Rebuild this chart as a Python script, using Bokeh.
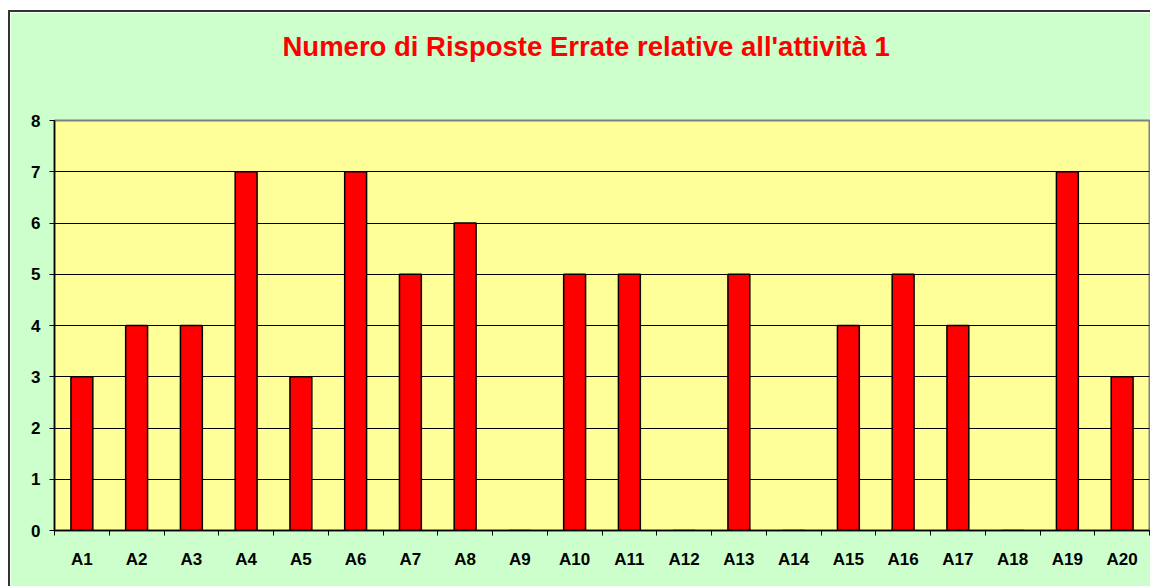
from bokeh.plotting import figure
from bokeh.models import FixedTicker, Range1d, Spacer, Title
from bokeh.layouts import column, row
from bokeh.embed import file_html
from bokeh.resources import INLINE

categories = ["A1", "A2", "A3", "A4", "A5", "A6", "A7", "A8", "A9", "A10",
              "A11", "A12", "A13", "A14", "A15", "A16", "A17", "A18", "A19", "A20"]
values = [3, 4, 4, 7, 3, 7, 5, 6, 0, 5, 5, 0, 5, 0, 4, 5, 4, 0, 7, 3]
y_ticks = [0, 1, 2, 3, 4, 5, 6, 7, 8]
title_text = "Numero di Risposte Errate relative all'attività 1"

FONT = "Liberation Sans"
BG = "#CCFFCC"
n = len(categories)
centers = [i + 0.5 for i in range(n)]

p = figure(width=1142, height=576, output_backend="svg", toolbar_location=None,
           x_range=Range1d(0, n), y_range=Range1d(0, 8),
           min_border_left=44, min_border_right=3, min_border_top=108, min_border_bottom=58)

p.background_fill_color = "#FFFF99"
p.border_fill_color = BG
p.outline_line_color = "#808080"
p.outline_line_width = 2

# spacer panel (same colour as the background) between the frame and the title
gap = Title(text=".", text_font_size="2px", text_color=BG, standoff=56)
p.add_layout(gap, "above")
t = Title(text=title_text, align="left", offset=228, standoff=0, text_color="#FF0000",
          text_font=FONT, text_font_size="27.5px", text_font_style="bold")
p.add_layout(t, "above")

p.vbar(x=centers, top=values, width=0.4, bottom=0,
       fill_color="#FF0000", line_color="#000000", line_width=1.5)

# x axis
p.xaxis.ticker = FixedTicker(ticks=centers, minor_ticks=list(range(n + 1)))
p.xaxis.major_label_overrides = {c: lab for c, lab in zip(centers, categories)}
p.xaxis.major_tick_out = 0
p.xaxis.major_tick_in = 0
p.xaxis.minor_tick_out = 5
p.xaxis.minor_tick_in = 0
p.xaxis.minor_tick_line_color = "#000000"
p.xaxis.axis_line_color = "#000000"
p.xaxis.axis_line_width = 1.5
p.xaxis.major_label_standoff = 14
p.xaxis.major_label_text_font = FONT
p.xaxis.major_label_text_font_size = "17px"
p.xaxis.major_label_text_font_style = "bold"
p.xaxis.major_label_text_color = "#000000"
p.xgrid.grid_line_color = None

# y axis
p.yaxis.ticker = FixedTicker(ticks=y_ticks)
p.yaxis.major_tick_out = 5
p.yaxis.major_tick_in = 0
p.yaxis.minor_tick_line_color = None
p.yaxis.axis_line_color = "#000000"
p.yaxis.axis_line_width = 1.5
p.yaxis.major_tick_line_color = "#000000"
p.yaxis.major_label_standoff = 9
p.yaxis.major_label_text_font = FONT
p.yaxis.major_label_text_font_size = "17px"
p.yaxis.major_label_text_font_style = "bold"
p.yaxis.major_label_text_color = "#000000"
p.ygrid.ticker = FixedTicker(ticks=y_ticks[1:-1])
p.ygrid.grid_line_color = "#000000"
p.ygrid.grid_line_width = 1

p.styles = {"border-top": "2px solid #333333", "border-left": "2px solid #333333"}

layout = column(Spacer(width=1152, height=10),
                row(Spacer(width=8, height=578), p, spacing=0),
                spacing=0)

open("out.html", "w").write(file_html(layout, INLINE))
